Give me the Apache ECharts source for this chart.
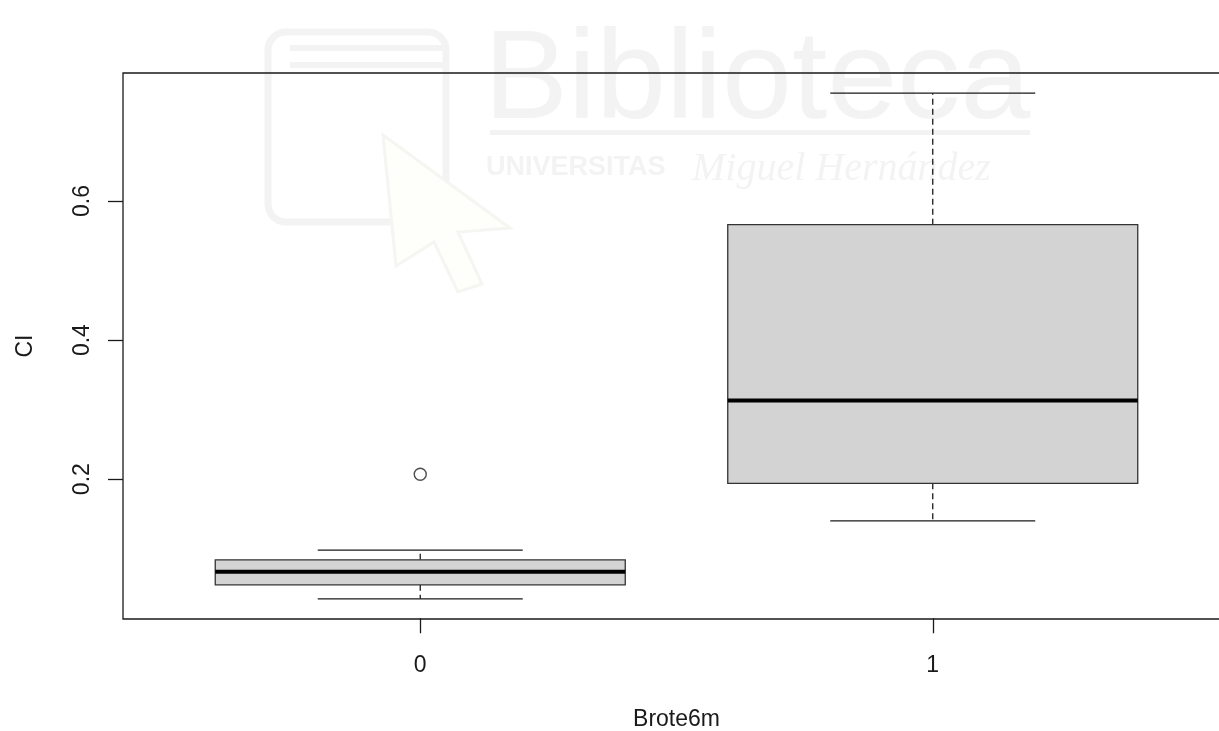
<!DOCTYPE html>
<html>
<head>
<meta charset="utf-8">
<script src="https://cdn.jsdelivr.net/npm/echarts@6/dist/echarts.min.js"></script>
<style>
html,body{margin:0;padding:0;background:#fff;}
#chart{width:1219px;height:731px;}
</style>
</head>
<body>
<div id="chart"></div>
<script>
// ---- data ----
const categories = ['0', '1'];
const groupPositions = [1, 2];
const lowerWhisker = [0.028, 0.140];
const quartile1 = [0.048, 0.194];
const medians = [0.067, 0.313];
const quartile3 = [0.084, 0.566];
const upperWhisker = [0.098, 0.755];
const outlierGroup = [0];
const outlierValue = [0.207];
const yTickValues = [0.2, 0.4, 0.6];
const xTitle = 'Brote6m';
const yTitle = 'CI';

// ---- build library data ----
const boxData = categories.map((c, i) => [groupPositions[i], lowerWhisker[i], quartile1[i], medians[i], quartile3[i], upperWhisker[i]]);
const outlierData = outlierGroup.map((g, i) => [groupPositions[g], outlierValue[i]]);

const FONT = '"Liberation Sans", Arial, Helvetica, sans-serif';
const INK = '#1a1a1a';
const WM = '#f3f3f3';

const chart = echarts.init(document.getElementById('chart'), null, {renderer: 'canvas'});

const option = {
  animation: false,
  backgroundColor: '#ffffff',
  textStyle: {fontFamily: FONT},
  graphic: [
    {type: 'rect', silent: true, z: -10, shape: {x: 268, y: 32, width: 178, height: 190, r: 18},
     style: {fill: 'none', stroke: WM, lineWidth: 7}},
    {type: 'rect', silent: true, z: -10, shape: {x: 290, y: 45, width: 155, height: 6}, style: {fill: WM}},
    {type: 'rect', silent: true, z: -10, shape: {x: 290, y: 62, width: 155, height: 6}, style: {fill: WM}},
    {type: 'polygon', silent: true, z: -10,
     shape: {points: [[383, 135], [510, 228], [458, 232], [482, 284], [458, 292], [434, 242], [396, 266]]},
     style: {fill: '#fefefb', stroke: '#f5f5f2', lineWidth: 3}},
    {type: 'text', silent: true, z: -10, left: 484, top: 20,
     style: {text: 'Biblioteca', font: '300 126px ' + FONT, fill: WM}},
    {type: 'rect', silent: true, z: -10, shape: {x: 490, y: 130, width: 540, height: 5}, style: {fill: WM}},
    {type: 'text', silent: true, z: -10, left: 486, top: 154,
     style: {text: 'UNIVERSITAS', font: 'bold 27px ' + FONT, fill: WM}},
    {type: 'text', silent: true, z: -10, left: 692, top: 149,
     style: {text: 'Miguel Hernández', font: 'italic 40px "Liberation Serif", serif', fill: WM}}
  ],
  grid: {
    left: 123, top: 73, width: 1107, height: 546,
    outerBoundsMode: 'none', containLabel: false,
    show: true, borderColor: INK, borderWidth: 1.3, backgroundColor: 'transparent'
  },
  xAxis: {
    type: 'value', min: 0.42, max: 2.58,
    splitLine: {show: false},
    axisLine: {show: false},
    axisTick: {show: true, length: 15, customValues: groupPositions, lineStyle: {color: INK, width: 1.3}},
    axisLabel: {
      show: true, customValues: groupPositions, margin: 35,
      fontSize: 23, color: INK, fontFamily: FONT,
      formatter: v => categories[groupPositions.indexOf(Math.round(v))]
    },
    name: xTitle, nameLocation: 'middle', nameGap: 89,
    nameTextStyle: {fontSize: 23, color: INK, fontFamily: FONT}
  },
  yAxis: {
    type: 'value', min: -0.00108, max: 0.78408,
    splitLine: {show: false},
    axisLine: {show: false},
    axisTick: {show: true, length: 15, customValues: yTickValues, lineStyle: {color: INK, width: 1.3}},
    axisLabel: {
      show: true, customValues: yTickValues, rotate: 90, margin: 29,
      fontSize: 23, color: INK, fontFamily: FONT,
      formatter: v => v.toFixed(1)
    },
    name: yTitle, nameLocation: 'middle', nameGap: 86, nameRotate: 90,
    nameTextStyle: {fontSize: 23, color: INK, fontFamily: FONT}
  },
  series: [
    {
      type: 'custom',
      data: boxData,
      encode: {x: 0, y: [1, 2, 3, 4, 5]},
      renderItem: function (params, api) {
        const x = api.value(0);
        const pLo = api.coord([x, api.value(1)]);
        const pQ1 = api.coord([x, api.value(2)]);
        const pMed = api.coord([x, api.value(3)]);
        const pQ3 = api.coord([x, api.value(4)]);
        const pHi = api.coord([x, api.value(5)]);
        const boxW = api.size([0.8, 0])[0];
        const capW = api.size([0.4, 0])[0];
        const cx = pMed[0];
        const lineStyle = {stroke: INK, lineWidth: 1.3};
        const dashStyle = {stroke: INK, lineWidth: 1.3, lineDash: [6, 4]};
        return {
          type: 'group',
          children: [
            {type: 'line', shape: {x1: cx, y1: pQ3[1], x2: cx, y2: pHi[1]}, style: dashStyle},
            {type: 'line', shape: {x1: cx, y1: pQ1[1], x2: cx, y2: pLo[1]}, style: dashStyle},
            {type: 'line', shape: {x1: cx - capW / 2, y1: pHi[1], x2: cx + capW / 2, y2: pHi[1]}, style: lineStyle},
            {type: 'line', shape: {x1: cx - capW / 2, y1: pLo[1], x2: cx + capW / 2, y2: pLo[1]}, style: lineStyle},
            {type: 'rect', shape: {x: cx - boxW / 2, y: pQ3[1], width: boxW, height: pQ1[1] - pQ3[1]},
             style: {fill: '#d3d3d3', stroke: '#333333', lineWidth: 1.3}},
            {type: 'line', shape: {x1: cx - boxW / 2, y1: pMed[1], x2: cx + boxW / 2, y2: pMed[1]},
             style: {stroke: '#000000', lineWidth: 4}}
          ]
        };
      }
    },
    {
      type: 'scatter',
      data: outlierData,
      symbol: 'circle',
      symbolSize: 12,
      itemStyle: {color: 'rgba(255,255,255,0)', borderColor: '#222', borderWidth: 1.4}
    }
  ]
};
chart.setOption(option);
</script>
</body>
</html>
